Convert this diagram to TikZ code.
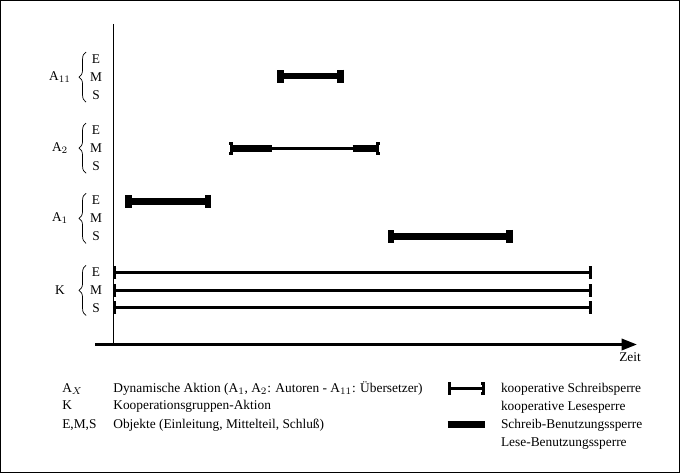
\documentclass[tikz,border=0pt]{standalone}
\usepackage{fontspec}
\setmainfont{Liberation Serif}
\usetikzlibrary{arrows.meta, decorations.pathreplacing}

\begin{document}
\begin{tikzpicture}[x=0.025cm, y=-0.025cm, font=\fontsize{9.5}{11}\selectfont,
    coop/.style={line width=2.1pt, {Bar[width=9.2pt,length=2.4pt]}-{Bar[width=9.2pt,length=2.4pt]}},
    lock/.style={line width=4.8pt},
    capped/.style={line width=4.8pt, {Bar[width=9.2pt,length=2.4pt]}-{Bar[width=9.2pt,length=2.4pt]}},
    lbl/.style={inner sep=0pt, anchor=base west},
    brc/.style={decorate, decoration={brace, amplitude=5pt}, line width=0.5pt}]
    % Rahmen
    \draw[line width=0.6pt] (0.5,0.5) rectangle (678.5,471.5);
    % Achsen
    \draw[line width=0.6pt] (113,24) -- (113,344);
    \draw[line width=2.1pt, -{Triangle[length=11pt,width=8pt]}] (95,344) -- (636,344);
    \node[lbl] (zeit) at (618,361) {Zeit};
    % Aktionen mit Objekten E, M, S
    \foreach \name/\lab/\y in {a11/{A$_{11}$}/77, a2/{A$_2$}/148, a1/{A$_1$}/218, k/K/290} {
        \node[inner sep=0pt] (\name) at (60,\y) {\lab};
        \node[inner sep=0pt] (\name e) at (96,\y-18) {E};
        \node[inner sep=0pt] (\name m) at (96,\y) {M};
        \node[inner sep=0pt] (\name s) at (96,\y+18) {S};
        \draw[brc] (86,\y+25) -- (86,\y-25);
    }
    % Sperren
    \draw[capped] (277,76) -- (343,76);
    \draw[coop] (229,148) -- (379,148);
    \draw[lock] (230,148) -- (272,148);
    \draw[lock] (352,148) -- (378,148);
    \draw[capped] (125,201) -- (211,201);
    \draw[capped] (387,236) -- (512,236);
    \foreach \y in {272,290,307}
        \draw[coop] (113,\y) -- (591,\y);
    % Legende
    \node[lbl] (ax) at (62,392) {A$_X$};
    \node[lbl] (axt) at (113,392) {Dynamische Aktion (A$_1$, A$_2$: Autoren - A$_{11}$: Übersetzer)};
    \node[lbl] (kk) at (62,409) {K};
    \node[lbl] (kkt) at (113,409) {Kooperationsgruppen-Aktion};
    \node[lbl] (ems) at (62,428) {E,M,S};
    \node[lbl] (emst) at (113,428) {Objekte (Einleitung, Mittelteil, Schluß)};
    \draw[coop] (447,388) -- (484,388);
    \node[lbl] (ks) at (500,392) {kooperative Schreibsperre};
    \node[lbl] (kl) at (500,410) {kooperative Lesesperre};
    \draw[lock] (447,424) -- (484,424);
    \node[lbl] (sb) at (500,428) {Schreib-Benutzungssperre};
    \node[lbl] (lb) at (500,446) {Lese-Benutzungssperre};
\end{tikzpicture}
\end{document}
